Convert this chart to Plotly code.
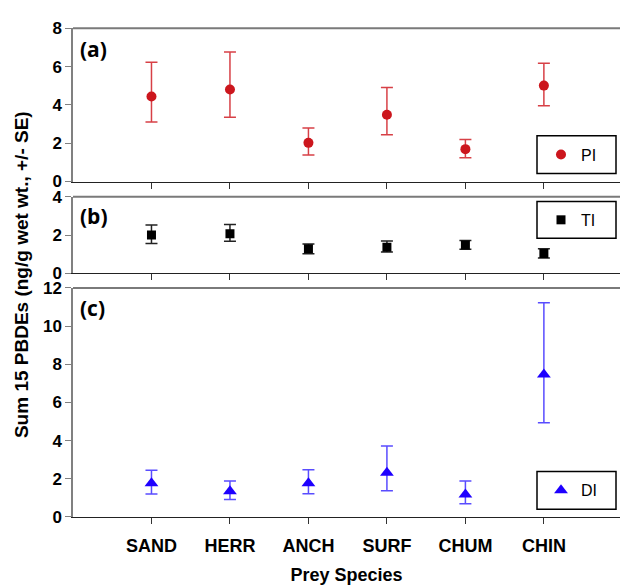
import plotly.graph_objects as go

# Prey species on the shared x axis
species = ["SAND", "HERR", "ANCH", "SURF", "CHUM", "CHIN"]

# Sum of 15 PBDEs (ng/g wet wt.) with upper/lower SE limits, per prey group
pi_mean = [4.44, 4.81, 2.02, 3.49, 1.69, 5.01]
pi_upper = [6.23, 6.76, 2.80, 4.91, 2.20, 6.18]
pi_lower = [3.11, 3.36, 1.39, 2.44, 1.24, 3.96]

ti_mean = [2.00, 2.07, 1.28, 1.36, 1.48, 1.04]
ti_upper = [2.52, 2.55, 1.53, 1.69, 1.71, 1.29]
ti_lower = [1.56, 1.68, 1.02, 1.12, 1.26, 0.81]

di_mean = [1.77, 1.35, 1.77, 2.32, 1.18, 7.47]
di_upper = [2.45, 1.88, 2.47, 3.72, 1.89, 11.22]
di_lower = [1.20, 0.91, 1.22, 1.37, 0.69, 4.93]

W, H = 620, 585


def fx(p):
    return p / W


def fy(p):
    return 1 - p / H


BOLD = dict(family="Liberation Sans, Arial, sans-serif", weight="bold", color="black")

panels = [
    # name, mean, upper, lower, symbol, size, marker colour, bar colour, axis suffix, legend id
    ("PI", pi_mean, pi_upper, pi_lower, "circle", 10, "#cc161d", "rgba(208,30,38,0.85)", "", "legend"),
    ("TI", ti_mean, ti_upper, ti_lower, "square", 9, "#000000", "#222222", "2", "legend2"),
    ("DI", di_mean, di_upper, di_lower, "triangle-up", 12, "#1e00ff", "rgba(60,45,255,0.85)", "3", "legend3"),
]

fig = go.Figure()
for name, mean, up, lo, sym, size, mcol, ecol, ax, leg in panels:
    fig.add_trace(go.Scatter(
        x=species, y=mean, name=name, mode="markers",
        marker=dict(symbol=sym, size=size, color=mcol),
        error_y=dict(type="data", symmetric=False,
                     array=[u - m for u, m in zip(up, mean)],
                     arrayminus=[m - l for m, l in zip(mean, lo)],
                     color=ecol, thickness=1.5, width=6),
        xaxis="x" + ax, yaxis="y" + ax, legend=leg, showlegend=True,
    ))

x_dom = [fx(73), 1.0]
# panel vertical extents in pixels (top, bottom)
y_doms = {"": (20, 178.3), "2": (194, 273.3), "3": (288.3, 525)}
y_ranges = {"": [0, 8], "2": [0, 4], "3": [0, 12]}

layout = dict(
    width=W, height=H, margin=dict(l=0, r=0, t=0, b=0),
    paper_bgcolor="white", plot_bgcolor="white",
)
for ax in ["", "2", "3"]:
    top, bot = y_doms[ax]
    layout["xaxis" + ax] = dict(
        domain=x_dom, anchor="y" + ax, type="category",
        categoryorder="array", categoryarray=species, range=[-1, 5.97],
        showline=True, linecolor="#222222", linewidth=1,
        ticks="outside", ticklen=6, tickcolor="#333333", tickwidth=1,
        showgrid=False, zeroline=False, showticklabels=(ax == "3"),
        tickfont=dict(size=18, **BOLD), ticklabelstandoff=6,
    )
    layout["yaxis" + ax] = dict(
        domain=[fy(bot), fy(top)], anchor="x" + ax, range=y_ranges[ax], dtick=2,
        showline=True, linecolor="#808080", linewidth=1.5,
        ticks="outside", ticklen=6, tickcolor="#808080", tickwidth=1,
        showgrid=False, zeroline=False, tickfont=dict(size=17, **BOLD),
    )
layout["xaxis3"]["title"] = dict(text="Prey Species", font=dict(size=18, **BOLD), standoff=14)

# one legend per panel, centred in its own framed box
legend_boxes = {"legend": (131, 170), "legend2": (199, 237), "legend3": (478, 517)}
for leg, (t, b) in legend_boxes.items():
    layout[leg] = dict(
        x=fx(541), xanchor="left", y=fy((t + b) / 2), yanchor="middle",
        bgcolor="rgba(0,0,0,0)", borderwidth=0,
        font=dict(family="Liberation Sans, Arial, sans-serif", size=16, color="black"),
    )

shapes = []
for leg, (t, b) in legend_boxes.items():
    shapes.append(dict(type="rect", xref="paper", yref="paper",
                       x0=fx(537), x1=fx(616), y0=fy(b), y1=fy(t),
                       line=dict(color="black", width=1.5), fillcolor="rgba(0,0,0,0)"))
for ax in ["", "2", "3"]:
    shapes.append(dict(type="line", xref="paper", yref="y" + ax + " domain",
                       x0=x_dom[0], x1=1, y0=1, y1=1,
                       line=dict(color="#7a7a7a", width=2)))
layout["shapes"] = shapes

annotations = []
for label, yc in [("(a)", 41), ("(b)", 214), ("(c)", 309)]:
    annotations.append(dict(text="<b>" + label + "</b>", xref="paper", yref="paper",
                            x=fx(78), y=fy(yc),
                            xanchor="left", yanchor="middle", showarrow=False,
                            font=dict(family="Open Sans, Lato, sans-serif", size=21,
                                      weight="bold", color="black")))
annotations.append(dict(text="Sum 15 PBDEs (ng/g wet wt., +/- SE)", xref="paper", yref="paper",
                        x=fx(21), y=fy(275), xanchor="center", yanchor="middle",
                        textangle=-90, showarrow=False, font=dict(size=19, **BOLD)))
layout["annotations"] = annotations

fig.update_layout(**layout)
fig.write_html("out.html")
